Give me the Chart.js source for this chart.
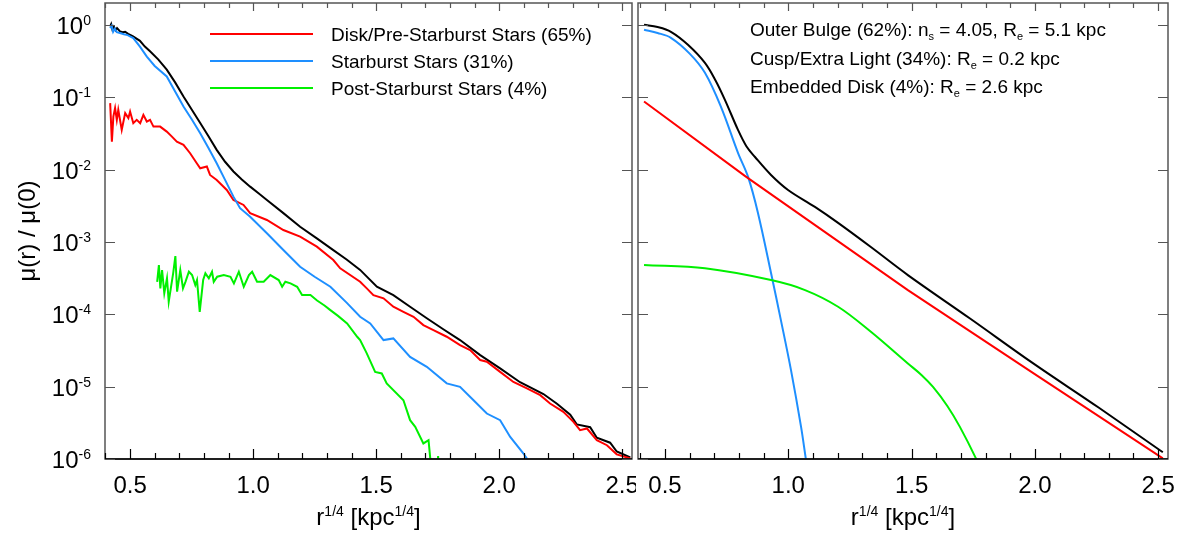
<!DOCTYPE html>
<html>
<head>
<meta charset="utf-8">
<script src="https://cdn.jsdelivr.net/npm/chart.js@4.4.1/dist/chart.umd.min.js"></script>
<style>
  body { margin: 0; background: #fff; }
  #wrap { position: relative; width: 1180px; height: 533px; }
  canvas { position: absolute; top: 0; }
</style>
</head>
<body>
<div id="wrap">
  <canvas id="left" width="636" height="533" style="left:0"></canvas>
  <canvas id="right" width="544" height="533" style="left:636px"></canvas>
</div>
<script>
// observed profiles, [r^1/4, mu(r)/mu(0)]
let obsTotal = [
  [0.419, 0.95], [0.423, 1.02], [0.428, 0.86], [0.434, 0.94], [0.441, 0.84], [0.447, 0.90],
  [0.459, 0.81], [0.470, 0.79], [0.480, 0.80], [0.492, 0.75], [0.512, 0.69], [0.540, 0.60],
  [0.560, 0.50], [0.581, 0.43], [0.615, 0.33], [0.649, 0.24], [0.683, 0.16], [0.717, 0.102],
  [0.751, 0.067], [0.785, 0.044], [0.818, 0.029], [0.852, 0.0187], [0.886, 0.0128], [0.920, 0.0094],
  [0.954, 0.0073], [0.988, 0.0058], [1.022, 0.0047], [1.056, 0.0038], [1.123, 0.0025], [1.191, 0.00162],
  [1.259, 0.00112], [1.326, 0.00077], [1.380, 0.00057], [1.435, 0.00041], [1.503, 0.00024], [1.570, 0.000184],
  [1.638, 0.000127], [1.706, 8.8e-5], [1.773, 6.2e-5], [1.841, 4.4e-5], [1.923, 2.73e-5], [2.004, 1.79e-5],
  [2.085, 1.15e-5], [2.180, 7.9e-6], [2.235, 5.8e-6], [2.289, 4.1e-6], [2.316, 3.0e-6], [2.370, 2.75e-6],
  [2.397, 1.97e-6], [2.451, 1.68e-6], [2.478, 1.27e-6], [2.533, 1.05e-6]
];
let obsDisk = [
  [0.419, 0.0826], [0.426, 0.0243], [0.432, 0.0539], [0.439, 0.0705], [0.446, 0.0485], [0.452, 0.0667],
  [0.466, 0.0353], [0.480, 0.0601], [0.493, 0.0513], [0.500, 0.0632], [0.513, 0.0437], [0.527, 0.0485],
  [0.541, 0.0437], [0.554, 0.0569], [0.568, 0.0460], [0.581, 0.0485], [0.595, 0.0392], [0.622, 0.0392],
  [0.649, 0.0334], [0.670, 0.0285], [0.690, 0.0243], [0.717, 0.0219], [0.744, 0.0168], [0.771, 0.0122],
  [0.785, 0.0104], [0.812, 0.0110], [0.825, 0.00841], [0.852, 0.00718], [0.893, 0.00522], [0.920, 0.00380],
  [0.961, 0.00324], [0.988, 0.00249], [1.056, 0.00201], [1.123, 0.00146], [1.191, 0.00118], [1.259, 0.000859],
  [1.326, 0.000562], [1.354, 0.000431], [1.435, 0.000281], [1.462, 0.000228], [1.489, 0.000184], [1.530, 0.000166],
  [1.570, 0.000127], [1.611, 0.000108], [1.652, 9.23e-5], [1.692, 7.09e-5], [1.733, 6.05e-5], [1.787, 4.89e-5],
  [1.841, 3.75e-5], [1.882, 3.20e-5], [1.923, 2.33e-5], [1.950, 2.21e-5], [2.004, 1.60e-5], [2.058, 1.16e-5],
  [2.113, 9.44e-6], [2.167, 7.62e-6], [2.207, 5.85e-6], [2.261, 4.48e-6], [2.302, 3.26e-6], [2.329, 2.50e-6],
  [2.357, 2.64e-6], [2.397, 1.82e-6], [2.438, 1.55e-6], [2.478, 1.16e-6], [2.533, 1.02e-6]
];
let obsStarburst = [
  [0.419, 0.90], [0.425, 0.97], [0.431, 0.80], [0.438, 0.88], [0.446, 0.79], [0.459, 0.77],
  [0.475, 0.74], [0.490, 0.72], [0.513, 0.655], [0.540, 0.50], [0.568, 0.364], [0.600, 0.27],
  [0.649, 0.193], [0.683, 0.12], [0.717, 0.0741], [0.751, 0.049], [0.785, 0.0318], [0.818, 0.020],
  [0.852, 0.0122], [0.886, 0.0072], [0.920, 0.00422], [0.947, 0.00292], [0.988, 0.00223], [1.056, 0.00132],
  [1.123, 0.000773], [1.191, 0.000454], [1.250, 0.00033], [1.314, 0.000240], [1.380, 0.000145], [1.435, 9.23e-5],
  [1.476, 7.48e-5], [1.530, 4.40e-5], [1.570, 4.64e-5], [1.638, 2.58e-5], [1.706, 1.88e-5], [1.787, 1.11e-5],
  [1.841, 9.93e-6], [1.896, 6.50e-6], [1.950, 4.25e-6], [2.004, 3.44e-6], [2.045, 2.02e-6], [2.099, 1.19e-6],
  [2.113, 1.01e-6], [2.120, 8.5e-7]
];
let obsPost = [
  [0.610, 2.81e-4], [0.617, 4.79e-4], [0.623, 2.28e-4], [0.630, 4.09e-4], [0.639, 1.95e-4], [0.650, 3.14e-4],
  [0.657, 1.49e-4], [0.675, 3.68e-4], [0.684, 6.38e-4], [0.691, 2.05e-4], [0.704, 4.09e-4], [0.715, 2.28e-4],
  [0.725, 2.81e-4], [0.739, 3.87e-4], [0.752, 3.48e-4], [0.765, 2.53e-4], [0.772, 2.97e-4], [0.783, 1.08e-4],
  [0.797, 2.97e-4], [0.806, 3.68e-4], [0.820, 3.14e-4], [0.833, 3.87e-4], [0.840, 2.81e-4], [0.854, 3.30e-4],
  [0.881, 3.48e-4], [0.908, 3.30e-4], [0.922, 2.67e-4], [0.942, 3.87e-4], [0.962, 2.40e-4], [0.983, 3.48e-4],
  [0.996, 3.87e-4], [1.016, 2.81e-4], [1.043, 2.81e-4], [1.070, 3.48e-4], [1.104, 2.97e-4], [1.118, 2.40e-4],
  [1.131, 2.81e-4], [1.152, 2.67e-4], [1.179, 2.40e-4], [1.199, 1.84e-4], [1.233, 1.84e-4], [1.260, 1.55e-4],
  [1.290, 1.32e-4], [1.314, 1.14e-4], [1.345, 9.5e-5], [1.382, 7.48e-5], [1.423, 4.89e-5], [1.435, 4.40e-5],
  [1.462, 2.88e-5], [1.496, 1.60e-5], [1.523, 1.52e-5], [1.543, 1.11e-5], [1.611, 6.50e-6], [1.638, 3.44e-6],
  [1.659, 2.78e-6], [1.692, 1.64e-6], [1.713, 1.82e-6], [1.720, 1.02e-6], [1.723, 5e-7], [null, null],
  [1.746, 5e-7], [1.752, 1.1e-6], [1.756, 5e-7]
];

// model components
let fitTotal = [
  [0.415, 1.0], [0.470, 0.93], [0.524, 0.80], [0.593, 0.53], [0.662, 0.298], [0.705, 0.17],
  [0.743, 0.0918], [0.796, 0.0353], [0.830, 0.021], [0.865, 0.0149], [0.930, 0.00841], [0.999, 0.00522],
  [1.108, 0.00304], [1.202, 0.00183], [1.335, 0.000849], [1.485, 0.000348], [1.740, 8.6e-5],
  [1.992, 2.11e-5], [2.260, 5.1e-6], [2.519, 1.24e-6]
];
let fitBulge = [[0.415, 0.0869], [0.828, 0.00798], [1.485, 2.16e-4], [1.992, 1.55e-5], [2.519, 1.02e-6]];
let fitCusp = [
  [0.415, 0.853], [0.470, 0.77], [0.524, 0.661], [0.600, 0.40], [0.662, 0.217], [0.727, 0.0734],
  [0.796, 0.0170], [0.837, 0.0079], [0.877, 0.00251], [0.930, 0.000372], [0.970, 8.3e-5],
  [1.011, 1.69e-5], [1.052, 2.75e-6], [1.072, 9.6e-7], [1.09, 4e-7]
];
let fitDisk = [
  [0.415, 4.79e-4], [0.662, 4.31e-4], [0.930, 2.97e-4], [1.068, 2.16e-4], [1.202, 1.27e-4],
  [1.335, 5.73e-5], [1.485, 2.09e-5], [1.540, 1.45e-5], [1.587, 9.9e-6], [1.645, 5.4e-6],
  [1.696, 2.78e-6], [1.761, 1.02e-6], [1.78, 7e-7]
];

let legendNames = ['Disk/Pre-Starburst Stars (65%)', 'Starburst Stars (31%)', 'Post-Starburst Stars (4%)'];
let xTickLabels = [0.5, 1.0, 1.5, 2.0, 2.5];
let xMinorTicks = [0.4, 0.5, 0.6, 0.7, 0.8, 0.9, 1.0, 1.1, 1.2, 1.3, 1.4, 1.5, 1.6, 1.7, 1.8, 1.9, 2.0, 2.1, 2.2, 2.3, 2.4, 2.5];
let yTickExp = [0, -1, -2, -3, -4, -5, -6];

const RED = '#ff0000', BLUE = '#1e8fff', GREEN = '#00f000', BLACK = '#000000';
const FONT = '"Liberation Sans", Arial, sans-serif';

function pts(arr) {
  return arr.map(p => ({ x: p[0], y: p[1] }));
}

function ds(arr, color, smooth) {
  return {
    data: pts(arr),
    borderColor: color,
    borderWidth: 2,
    pointRadius: 0,
    fill: false,
    spanGaps: false,
    tension: smooth ? 0.35 : 0
  };
}

// draw text with sup/sub parts: [text, 'sup'|'sub'|'']
function drawRich(ctx, parts, x, y, size, align) {
  let small = Math.round(size * 0.6);
  let widths = parts.map(p => {
    ctx.font = (p[1] ? small : size) + 'px ' + FONT;
    return ctx.measureText(p[0]).width;
  });
  let total = widths.reduce((a, b) => a + b, 0);
  let cx = x;
  if (align == 'right') cx = x - total;
  if (align == 'center') cx = x - total / 2;
  ctx.textAlign = 'left';
  ctx.textBaseline = 'alphabetic';
  parts.forEach((p, i) => {
    ctx.font = (p[1] ? small : size) + 'px ' + FONT;
    let dy = 0;
    if (p[1] == 'sup') dy = -size * 0.36;
    if (p[1] == 'sub') dy = size * 0.22;
    ctx.fillText(p[0], cx, y + dy);
    cx += widths[i];
  });
}

function framePlugin(isLeft) {
  return {
    id: 'frame',
    afterDraw(chart) {
      let ctx = chart.ctx;
      let a = chart.chartArea;
      let xs = chart.scales.x, ys = chart.scales.y;
      ctx.save();
      ctx.fillStyle = '#000';

      // frame
      ctx.strokeStyle = '#555';
      ctx.lineWidth = 1.5;
      ctx.strokeRect(a.left, a.top, a.right - a.left, a.bottom - a.top);
      ctx.strokeStyle = '#000';
      ctx.beginPath();
      ctx.moveTo(a.left, a.bottom);
      ctx.lineTo(a.right, a.bottom);
      ctx.stroke();

      // x ticks
      ctx.lineWidth = 1.2;
      xMinorTicks.forEach(v => {
        let px = Math.round(xs.getPixelForValue(v)) + 0.5;
        let major = Math.abs(v * 2 - Math.round(v * 2)) < 1e-6;
        ctx.strokeStyle = '#000';
        ctx.beginPath();
        ctx.moveTo(px, a.bottom);
        ctx.lineTo(px, a.bottom - (major ? 10 : 6));
        ctx.stroke();
        ctx.strokeStyle = '#555';
        ctx.beginPath();
        ctx.moveTo(px, a.top);
        ctx.lineTo(px, a.top + (major ? 8 : 5));
        ctx.stroke();
      });

      // y ticks
      ctx.strokeStyle = '#555';
      yTickExp.forEach(e => {
        let py = Math.round(ys.getPixelForValue(Math.pow(10, e))) + 0.5;
        ctx.beginPath();
        ctx.moveTo(a.left, py);
        ctx.lineTo(a.left + 10, py);
        ctx.moveTo(a.right, py);
        ctx.lineTo(a.right - 10, py);
        ctx.stroke();
        if (isLeft) {
          drawRich(ctx, [['10', ''], [String(e), 'sup']], 91, py + 8.5, 24, 'right');
        }
      });

      // x tick labels
      ctx.font = '24px ' + FONT;
      ctx.textAlign = 'center';
      ctx.textBaseline = 'alphabetic';
      xTickLabels.forEach(v => {
        ctx.fillText(v.toFixed(1), xs.getPixelForValue(v), 493);
      });

      // x title
      let mid = (a.left + a.right) / 2;
      drawRich(ctx, [['r', ''], ['1/4', 'sup'], [' [kpc', ''], ['1/4', 'sup'], [']', '']], mid, 525, 24, 'center');

      if (isLeft) {
        // y title
        ctx.save();
        ctx.translate(35, (a.top + a.bottom) / 2);
        ctx.rotate(-Math.PI / 2);
        ctx.font = '24px ' + FONT;
        ctx.textAlign = 'center';
        ctx.fillText('\u03bc(r) / \u03bc(0)', 0, 0);
        ctx.restore();

        // legend
        let cols = [RED, BLUE, GREEN];
        legendNames.forEach((name, i) => {
          let ly = 34 + i * 27;
          ctx.strokeStyle = cols[i];
          ctx.lineWidth = 2;
          ctx.beginPath();
          ctx.moveTo(210, ly);
          ctx.lineTo(313, ly);
          ctx.stroke();
          ctx.font = '19px ' + FONT;
          ctx.textAlign = 'left';
          ctx.fillStyle = '#000';
          ctx.fillText(name, 331, ly + 7);
        });
      } else {
        let tx = 750 - 636;
        drawRich(ctx, [['Outer Bulge (62%): n', ''], ['s', 'sub'], [' = 4.05, R', ''], ['e', 'sub'], [' = 5.1 kpc', '']], tx, 36, 19, 'left');
        drawRich(ctx, [['Cusp/Extra Light (34%): R', ''], ['e', 'sub'], [' = 0.2 kpc', '']], tx, 64.5, 19, 'left');
        drawRich(ctx, [['Embedded Disk (4%): R', ''], ['e', 'sub'], [' = 2.6 kpc', '']], tx, 93, 19, 'left');
      }
      ctx.restore();
    }
  };
}

function makeChart(id, datasets, isLeft) {
  return new Chart(document.getElementById(id), {
    type: 'line',
    data: { datasets: datasets },
    options: {
      responsive: false,
      animation: false,
      devicePixelRatio: 1,
      layout: {
        padding: isLeft ? { left: 105, right: 4, top: 3, bottom: 74 } : { left: 2, right: 12, top: 3, bottom: 74 }
      },
      plugins: { legend: { display: false }, tooltip: { enabled: false } },
      scales: {
        x: { type: 'linear', display: false, min: isLeft ? 0.398 : 0.3905, max: 2.54 },
        y: { type: 'logarithmic', display: false, min: 1e-6, max: 2.0 }
      }
    },
    plugins: [framePlugin(isLeft)]
  });
}

makeChart('left', [
  ds(obsPost, GREEN, false),
  ds(obsStarburst, BLUE, false),
  ds(obsDisk, RED, false),
  ds(obsTotal, BLACK, false)
], true);

makeChart('right', [
  ds(fitDisk, GREEN, true),
  ds(fitBulge, RED, false),
  ds(fitCusp, BLUE, true),
  ds(fitTotal, BLACK, true)
], false);
</script>
</body>
</html>
